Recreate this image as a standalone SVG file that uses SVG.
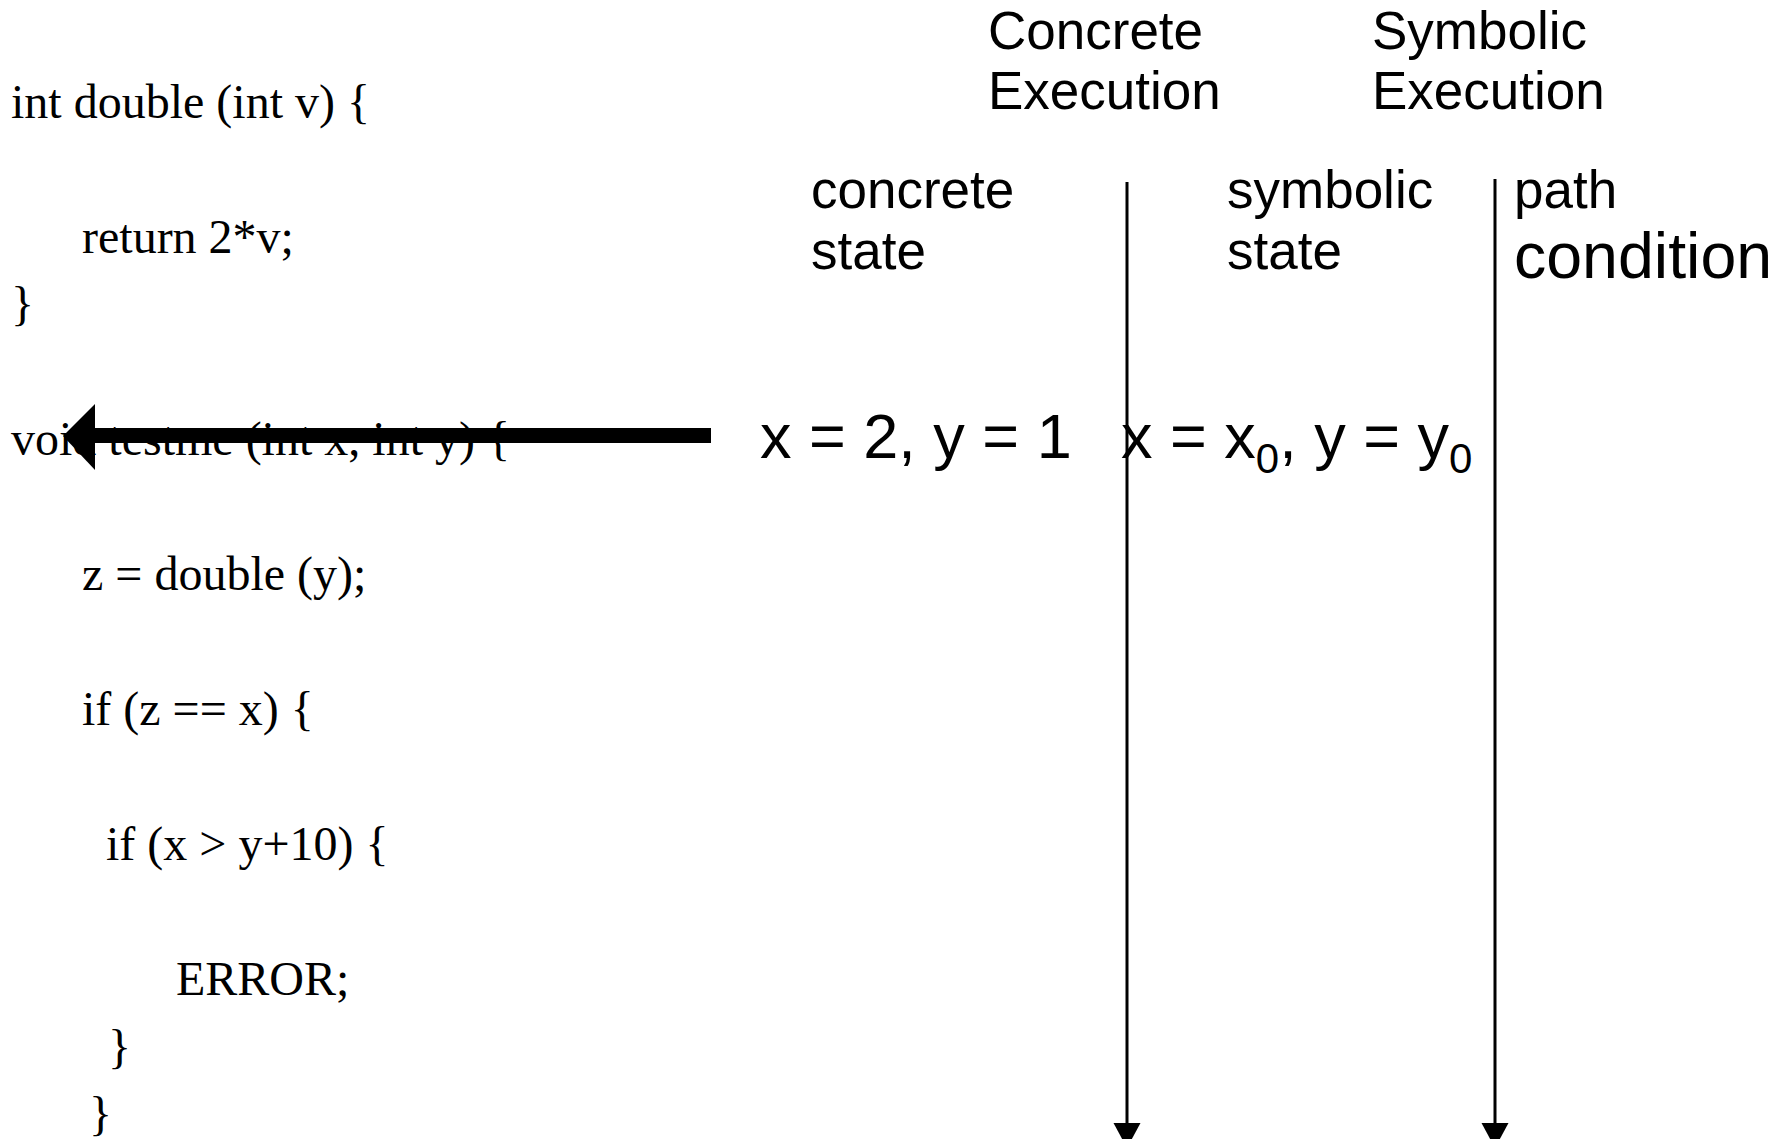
<svg xmlns="http://www.w3.org/2000/svg" width="1785" height="1139" viewBox="0 0 1785 1139">
<style>
.code{font-family:"Liberation Serif","Times New Roman",serif;font-size:48px;fill:#000}
.lab{font-family:"Liberation Sans",Arial,sans-serif;font-size:53px;fill:#000}
.big{font-family:"Liberation Sans",Arial,sans-serif;font-size:63px;fill:#000}
.vline{stroke:#000;stroke-width:3;fill:none}
.head{fill:#000}
</style>
<rect width="1785" height="1139" fill="#fff"/>
<g id="code">
<text class="code" x="11" y="118">int double (int v) {</text>
<text class="code" x="82" y="253">return 2*v;</text>
<text class="code" x="11" y="320">}</text>
<text class="code" x="11" y="455">void testme (int x, int y) {</text>
<text class="code" x="82" y="590">z = double (y);</text>
<text class="code" x="82" y="725">if (z == x) {</text>
<text class="code" x="106" y="860">if (x &gt; y+10) {</text>
<text class="code" x="176" y="995">ERROR;</text>
<text class="code" x="108" y="1062.5">}</text>
<text class="code" x="89" y="1130">}</text>
</g>
<g id="concrete-execution">
<text class="lab" x="988" y="49">Concrete</text>
<text class="lab" x="988" y="109">Execution</text>
</g>
<g id="symbolic-execution">
<text class="lab" x="1372" y="49">Symbolic</text>
<text class="lab" x="1372" y="109">Execution</text>
</g>
<g id="concrete-state">
<text class="lab" x="811" y="208">concrete</text>
<text class="lab" x="811" y="269">state</text>
</g>
<g id="symbolic-state">
<text class="lab" x="1227" y="208">symbolic</text>
<text class="lab" x="1227" y="269">state</text>
</g>
<g id="path-condition">
<text class="lab" x="1514" y="208">path</text>
<text class="big" x="1514" y="278" style="font-size:64.5px">condition</text>
</g>
<g id="concrete-value">
<text class="big" x="760" y="458">x = 2, y = 1</text>
</g>
<g id="symbolic-value">
<text class="big" x="1121" y="458">x = x<tspan font-size="42" dy="15">0</tspan><tspan dy="-15">, y = y</tspan><tspan font-size="42" dy="15">0</tspan></text>
</g>
<g id="connectors">
<line class="vline" x1="1127" y1="182" x2="1127" y2="1126"/>
<path class="head" d="M1113.5,1123 L1140.5,1123 L1127,1148 Z"/>
<line class="vline" x1="1495" y1="179" x2="1495" y2="1126"/>
<path class="head" d="M1481.5,1123 L1508.5,1123 L1495,1148 Z"/>
<line x1="711" y1="435.5" x2="92" y2="435.5" stroke="#000" stroke-width="15"/>
<path class="head" d="M95,404 L95,470 L63,436 Z"/>
</g>
</svg>
